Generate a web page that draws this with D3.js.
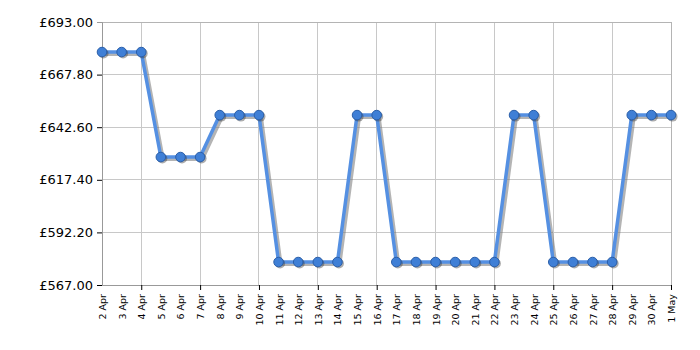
<!DOCTYPE html>
<html><head><meta charset="utf-8">
<script src="https://cdn.jsdelivr.net/npm/d3@7"></script>
<style>body{margin:0;background:#fff}svg{display:block}</style>
</head><body>
<svg id="c" width="700" height="350"></svg>
<script>
const dates = ["2 Apr","3 Apr","4 Apr","5 Apr","6 Apr","7 Apr","8 Apr","9 Apr","10 Apr","11 Apr","12 Apr","13 Apr","14 Apr","15 Apr","16 Apr","17 Apr","18 Apr","19 Apr","20 Apr","21 Apr","22 Apr","23 Apr","24 Apr","25 Apr","26 Apr","27 Apr","28 Apr","29 Apr","30 Apr","1 May"];
const prices = [678.6,678.6,678.6,628.3,628.3,628.3,648.4,648.4,648.4,578.0,578.0,578.0,578.0,648.4,648.4,578.0,578.0,578.0,578.0,578.0,578.0,648.4,648.4,578.0,578.0,578.0,578.0,648.4,648.4,648.4];
const yTicks = [567.00,592.20,617.40,642.60,667.80,693.00];

const svg = d3.select("#c");
const L=102, R=671, T=22, B=285;
const x = d3.scalePoint().domain(dates).range([L,R]);
const y = d3.scaleLinear().domain([567,693]).range([B,T]);
const font = "Verdana, 'DejaVu Sans', sans-serif";

// grid
svg.append("g").selectAll("line").data(yTicks.slice(1,-1)).join("line")
  .attr("x1",L).attr("x2",R).attr("y1",d=>y(d)).attr("y2",d=>y(d))
  .attr("stroke","#c8c8c8").attr("stroke-width",1).attr("shape-rendering","crispEdges");
svg.append("g").selectAll("line").data(dates.filter((d,i)=>i%3===2)).join("line")
  .attr("x1",d=>x(d)).attr("x2",d=>x(d)).attr("y1",T).attr("y2",B)
  .attr("stroke","#c8c8c8").attr("stroke-width",1).attr("shape-rendering","crispEdges");
// frame
svg.append("rect").attr("x",L).attr("y",T).attr("width",R-L).attr("height",B-T)
  .attr("fill","none").attr("stroke","#b4b4b4").attr("shape-rendering","crispEdges");

// y axis
const ya = svg.append("g").attr("transform",`translate(${L},0)`)
  .call(d3.axisLeft(y).tickValues(yTicks).tickSize(5).tickPadding(4).tickFormat(d=>"£"+d.toFixed(2)));
ya.select(".domain").attr("stroke","#999");
ya.selectAll(".tick line").attr("stroke","#000");
ya.selectAll("text").attr("font-family",font).attr("font-size",13).attr("fill","#000");
ya.selectAll(".tick").filter(d=>d===693).select("line").remove();

// x axis
const xa = svg.append("g").attr("transform",`translate(0,${B})`)
  .call(d3.axisBottom(x).tickSize(0).tickPadding(0));
xa.select(".domain").attr("stroke","#999");
xa.selectAll(".tick").each(function(d,i){
  if(i%3===2) d3.select(this).append("line").attr("y2",5).attr("stroke","#000");
});
xa.selectAll("text").attr("font-family",font).attr("font-size",9.5).attr("fill","#000")
  .attr("text-anchor","end").attr("dy",null)
  .attr("transform","translate(3.5,9) rotate(-90)").attr("y",0).attr("x",0);

// line shadow and line
const line = d3.line().x((d,i)=>x(dates[i])).y(d=>y(d));
svg.append("path").datum(prices).attr("d",line).attr("fill","none")
  .attr("stroke","#777").attr("stroke-opacity",0.55).attr("stroke-width",4)
  .attr("transform","translate(2,2)").attr("stroke-linejoin","round");
svg.append("path").datum(prices).attr("d",line).attr("fill","none")
  .attr("stroke","#5590e2").attr("stroke-width",3.5).attr("stroke-linejoin","round");
// points shadow and points
svg.append("g").selectAll("circle").data(prices).join("circle")
  .attr("cx",(d,i)=>x(dates[i])+1.5).attr("cy",d=>y(d)+1.5).attr("r",5)
  .attr("fill","#333").attr("opacity",0.4);
svg.append("g").selectAll("circle").data(prices).join("circle")
  .attr("cx",(d,i)=>x(dates[i])).attr("cy",d=>y(d)).attr("r",4.8)
  .attr("fill","#3f7fd6").attr("stroke","#2a5ea8").attr("stroke-width",1);
</script>
</body></html>
